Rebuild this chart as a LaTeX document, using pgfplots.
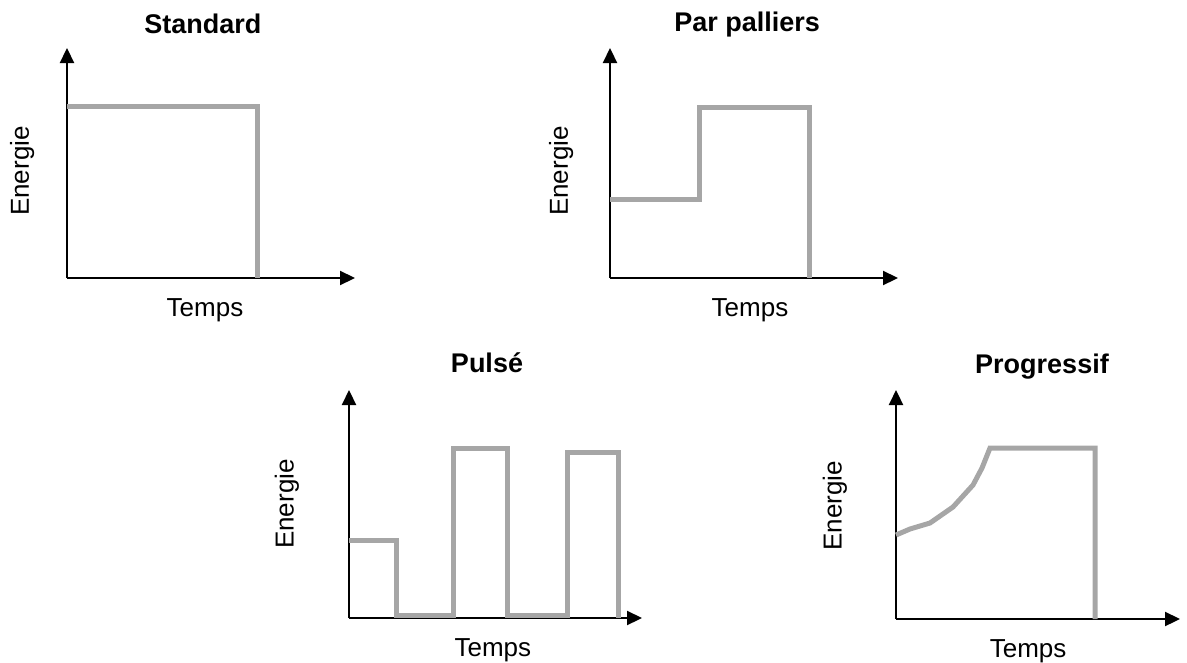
\documentclass[border=0pt]{standalone}
\usepackage{fontspec}
\setmainfont{Liberation Sans}
\usepackage{pgfplots}
\pgfplotsset{compat=1.18}
\usetikzlibrary{arrows.meta}
\definecolor{lgray}{RGB}{166,166,166}
\tikzset{gline/.style={draw=lgray, line width=2.5pt, line join=miter, mark=none}}
\pgfplotsset{
  schema/.style={
    x=0.5pt, y=0.5pt, anchor=origin,
    axis lines=left, xmin=0, ymin=0,
    xtick=\empty, ytick=\empty, clip=false,
    every outer x axis line/.append style={line width=1.1pt, -{Triangle[length=7.5pt,width=7pt]}},
    every outer y axis line/.append style={line width=1.1pt, -{Triangle[length=7.5pt,width=7pt]}},
    label style={font=\fontsize{13}{15}\selectfont, inner sep=0pt},
    title style={font=\fontsize{13.5}{15}\selectfont\bfseries, anchor=base, yshift=-6pt, inner sep=0pt},
    xlabel={Temps}, ylabel={Energie},
  }
}
\begin{document}
\begin{tikzpicture}
\path (0,0) rectangle (593.5pt,330.5pt);
% Standard
\begin{axis}[schema, at={(33.5pt,191.5pt)}, xmax=288, ymax=230,
  title={Standard},
  title style={at={(axis description cs:0.472,1.065)}},
  x label style={at={(axis description cs:0.479,-0.168)}, anchor=base},
  y label style={at={(axis description cs:-0.156,0.465)}, anchor=center}]
\addplot[gline] coordinates {(0,172) (190,172) (190,0)};
\end{axis}
% Par palliers
\begin{axis}[schema, at={(305pt,191.5pt)}, xmax=288, ymax=230,
  title={Par palliers},
  title style={at={(axis description cs:0.476,1.070)}},
  x label style={at={(axis description cs:0.486,-0.168)}, anchor=base},
  y label style={at={(axis description cs:-0.170,0.465)}, anchor=center}]
\addplot[gline] coordinates {(0,79) (89,79) (89,171) (199,171) (199,0)};
\end{axis}
% Pulse
\begin{axis}[schema, at={(174.5pt,21.5pt)}, xmax=293, ymax=228,
  title={Pulsé},
  title style={at={(axis description cs:0.471,1.075)}},
  x label style={at={(axis description cs:0.491,-0.170)}, anchor=base},
  y label style={at={(axis description cs:-0.212,0.500)}, anchor=center}]
\addplot[gline] coordinates {(0,78) (47,78) (47,3) (104,3) (104,170) (158,170) (158,3) (218,3) (218,166) (269,166) (269,0)};
\end{axis}
% Progressif
\begin{axis}[schema, at={(448pt,21pt)}, xmax=284, ymax=229,
  title={Progressif},
  title style={at={(axis description cs:0.514,1.074)}},
  x label style={at={(axis description cs:0.465,-0.166)}, anchor=base},
  y label style={at={(axis description cs:-0.215,0.494)}, anchor=center}]
\addplot[gline] coordinates {(0,84) (14,90) (34,96) (57,112) (77,134) (86,151) (94,171) (199,171) (199,0)};
\end{axis}
\end{tikzpicture}
\end{document}
